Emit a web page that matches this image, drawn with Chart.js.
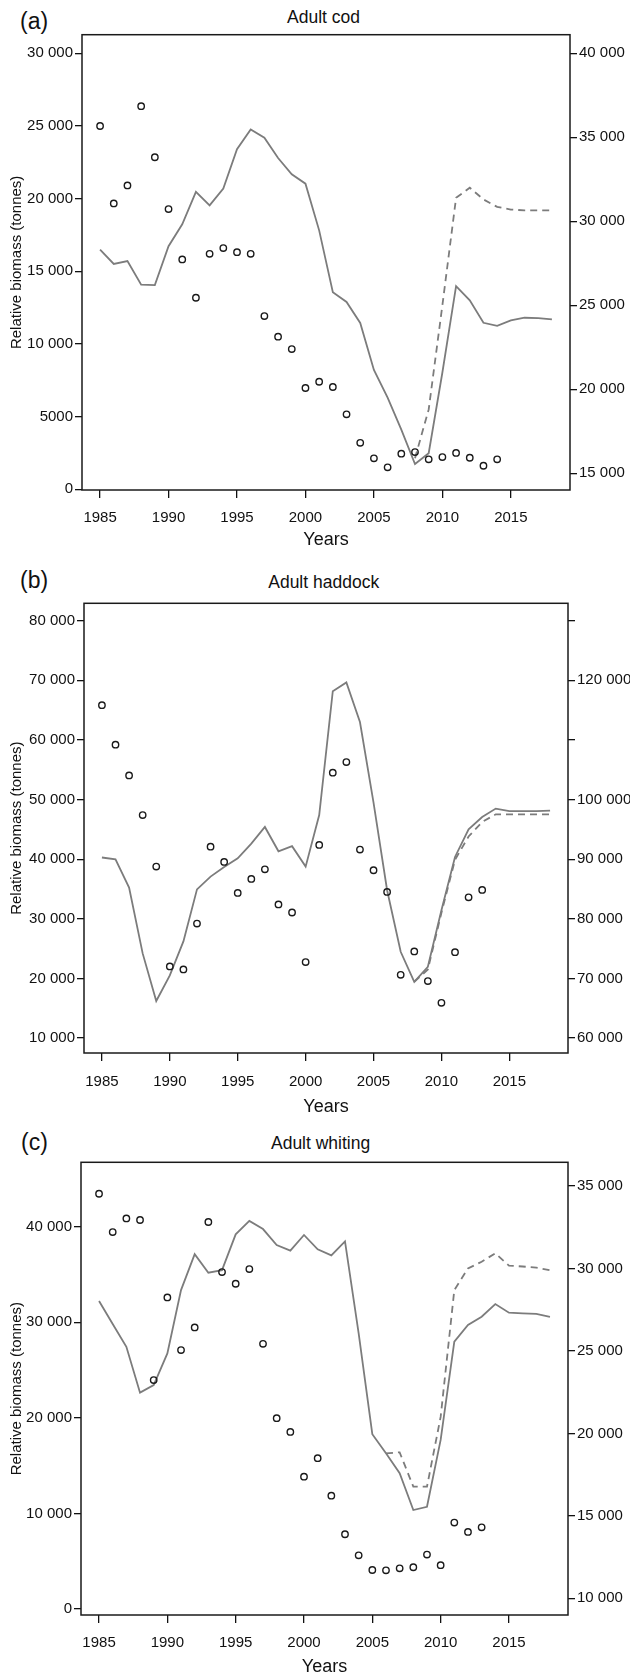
<!DOCTYPE html>
<html>
<head>
<meta charset="utf-8">
<script src="https://cdn.jsdelivr.net/npm/chart.js@4.4.0/dist/chart.umd.min.js"></script>
<style>
  html, body { margin: 0; padding: 0; background: #fff; }
  body { width: 630px; height: 1673px; position: relative; overflow: hidden; }
  canvas { position: absolute; left: 0; }
  .tag { position: absolute; font-family: 'Liberation Sans', Arial, sans-serif; font-size: 23px; line-height: 23px; color: #111; white-space: nowrap; }
  .ttl { position: absolute; font-family: 'Liberation Sans', Arial, sans-serif; font-size: 17.5px; line-height: 18px; color: #111; white-space: nowrap; transform: translateX(-50%); }
</style>
</head>
<body>
<div class="tag" style="left:20px; top:9.5px">(a)</div>
<div class="ttl" style="left:323.5px; top:7.5px">Adult cod</div>
<canvas id="codChart" width="630" height="555" style="top:0px"></canvas>

<div class="tag" style="left:20px; top:568.5px">(b)</div>
<div class="ttl" style="left:323.7px; top:573px">Adult haddock</div>
<canvas id="haddockChart" width="630" height="567" style="top:555px"></canvas>

<div class="tag" style="left:21px; top:1130.5px">(c)</div>
<div class="ttl" style="left:320.6px; top:1133.5px">Adult whiting</div>
<canvas id="whitingChart" width="630" height="563" style="top:1122px"></canvas>

<script>
// Years on the x axis
const years = [1985, 1986, 1987, 1988, 1989, 1990, 1991, 1992, 1993, 1994,
               1995, 1996, 1997, 1998, 1999, 2000, 2001, 2002, 2003, 2004,
               2005, 2006, 2007, 2008, 2009, 2010, 2011, 2012, 2013, 2014,
               2015, 2016, 2017, 2018];
const yearTicks = [1985, 1990, 1995, 2000, 2005, 2010, 2015];

// Adult cod: survey points (left axis), model biomass and projection (right axis)
const codSurvey = [25000, 19670, 20910, 26360, 22850, 19280, 15820, 13180, 16200, 16600,
                   16320, 16200, 11920, 10500, 9650, 6970, 7400, 7040, 5160, 3200,
                   2130, 1510, 2450, 2560, 2060, 2220, 2500, 2170, 1620, 2060,
                   null, null, null, null];
const codModel = [28320, 27460, 27630, 26230, 26200, 28520, 29820, 31750, 30950, 31950,
                  34290, 35460, 34980, 33770, 32800, 32240, 29460, 25780, 25200, 23950,
                  21150, 19500, 17600, 15550, 16200, 21000, 26140, 25300, 23960, 23780,
                  24100, 24260, 24240, 24160];
const codProj = [null, null, null, null, null, null, null, null, null, null,
                 null, null, null, null, null, null, null, null, null, null,
                 null, null, null, 15900, 18800, 25000, 31400, 32000, 31300, 30860,
                 30700, 30650, 30650, 30650];
const codLeftTicks = [0, 5000, 10000, 15000, 20000, 25000, 30000];
const codRightTicks = [15000, 20000, 25000, 30000, 35000, 40000];

// Adult haddock
const hadSurvey = [65830, 59200, 54050, 47400, 38760, 22000, 21500, 29200, 42100, 39530,
                   34340, 36690, 38300, 32400, 31050, 22730, 42380, 54500, 56280, 41600,
                   38140, 34500, 20600, 24520, 19550, 15900, 24400, 33600, 34840,
                   null, null, null, null, null];
const hadModel = [90280, 89980, 85240, 74190, 66200, 70500, 76200, 84930, 87070, 88690,
                  90150, 92600, 95400, 91320, 92180, 88750, 97400, 118180, 119650, 113000,
                  99500, 84790, 74460, 69430, 71940, 81440, 90370, 95000, 97070, 98480,
                  98070, 98070, 98070, 98130];
const hadProj = [null, null, null, null, null, null, null, null, null, null,
                 null, null, null, null, null, null, null, null, null, null,
                 null, null, null, 69430, 71500, 81000, 89900, 93800, 96240, 97520,
                 97520, 97520, 97520, 97520];
const hadLeftTicks = [10000, 20000, 30000, 40000, 50000, 60000, 70000, 80000];
const hadRightTicks = [60000, 70000, 80000, 90000, 100000, 110000, 120000, 130000];
const hadRightLabels = ['60 000', '70 000', '80 000', '90 000', '100 000', '', '120 000', ''];

// Adult whiting
const whiSurvey = [43450, 39440, 40870, 40700, 23950, 32600, 27090, 29460, 40490, 35250,
                   34030, 35570, 27750, 19970, 18530, 13850, 15780, 11860, 7820, 5620,
                   4080, 4050, 4260, 4370, 5690, 4580, 9040, 8060, 8550,
                   null, null, null, null, null];
const whiModel = [28030, 26630, 25250, 22470, 22930, 24850, 28690, 30870, 29740, 29900,
                  32070, 32880, 32390, 31420, 31080, 32030, 31160, 30790, 31640, 26070,
                  19950, 18790, 17580, 15350, 15550, 19600, 25560, 26570, 27070, 27840,
                  27320, 27280, 27240, 27070];
const whiProj = [null, null, null, null, null, null, null, null, null, null,
                 null, null, null, null, null, null, null, null, null, null,
                 null, 18790, 18850, 16770, 16770, 21000, 28690, 30000, 30410, 30920,
                 30170, 30120, 30050, 29900];
const whiLeftTicks = [0, 10000, 20000, 30000, 40000];
const whiRightTicks = [10000, 15000, 20000, 25000, 30000, 35000];

const sans = "'Liberation Sans', Arial, sans-serif";
const lineGrey = '#7c7c7c';
const ink = '#111';

function toXY(vals) {
    return years.map((yr, i) => ({ x: yr, y: vals[i] }));
}

function spaced(v) {
    return v >= 10000 ? String(v).replace(/\B(?=(\d{3})+(?!\d))/g, ' ') : String(v);
}

// draws the frame round the plot region
const boxPlugin = {
    id: 'box',
    afterDatasetsDraw(chart) {
        const a = chart.chartArea;
        const c = chart.ctx;
        c.save();
        c.strokeStyle = '#1a1a1a';
        c.lineWidth = 1.5;
        c.strokeRect(a.left, a.top, a.right - a.left, a.bottom - a.top);
        c.restore();
    }
};

function yAxis(pos, ticks, labels, min, max, width, withTitle) {
    return {
        position: pos,
        min: min,
        max: max,
        afterBuildTicks: s => { s.ticks = ticks.map(v => ({ value: v })); },
        afterFit: s => { s.width = width; },
        grid: { drawOnChartArea: false, drawTicks: true, tickLength: 7, tickColor: ink, lineWidth: 1.3 },
        border: { display: false },
        ticks: {
            font: { family: sans, size: 15 },
            color: ink,
            padding: 2,
            autoSkip: false,
            callback: (v, i) => labels ? labels[i] : spaced(v)
        },
        title: {
            display: withTitle,
            text: 'Relative biomass (tonnes)',
            font: { family: sans, size: 15 },
            color: ink,
            padding: { top: 8, bottom: 0 }
        }
    };
}

function makePanel(id, cfg) {
    const ctx = document.getElementById(id).getContext('2d');
    return new Chart(ctx, {
        type: 'line',
        data: {
            datasets: [{
                label: 'Survey index',
                data: toXY(cfg.survey),
                yAxisID: 'y',
                showLine: false,
                pointRadius: 3.2,
                pointBorderWidth: 1.4,
                pointBorderColor: '#1a1a1a',
                pointBackgroundColor: 'rgba(255,255,255,0)',
                order: 0
            }, {
                label: 'Model biomass',
                data: toXY(cfg.model),
                yAxisID: 'y2',
                borderColor: lineGrey,
                borderWidth: 1.8,
                pointRadius: 0,
                tension: 0,
                order: 1
            }, {
                label: 'Projection',
                data: toXY(cfg.proj),
                yAxisID: 'y2',
                borderColor: lineGrey,
                borderWidth: 1.8,
                borderDash: [7, 5],
                pointRadius: 0,
                tension: 0,
                order: 2
            }]
        },
        options: {
            responsive: false,
            animation: false,
            devicePixelRatio: 1,
            layout: { padding: { top: cfg.top, bottom: 0, left: 0, right: 0 } },
            plugins: { legend: { display: false }, tooltip: { enabled: false } },
            scales: {
                x: {
                    type: 'linear',
                    position: 'bottom',
                    min: 1983.68,
                    max: 2019.32,
                    afterBuildTicks: s => { s.ticks = yearTicks.map(v => ({ value: v })); },
                    afterFit: s => { s.height = cfg.xH; },
                    grid: { drawOnChartArea: false, drawTicks: true, tickLength: 8, tickColor: ink, lineWidth: 1.3 },
                    border: { display: false },
                    ticks: {
                        font: { family: sans, size: 15 },
                        color: ink,
                        padding: cfg.xPad,
                        maxRotation: 0,
                        autoSkip: false,
                        callback: v => String(v)
                    },
                    title: {
                        display: true,
                        text: 'Years',
                        font: { family: sans, size: 18 },
                        color: ink,
                        padding: { top: 0, bottom: cfg.titlePad }
                    }
                },
                y: yAxis('left', cfg.leftTicks, null, cfg.leftMin, cfg.leftMax, cfg.left, true),
                y2: yAxis('right', cfg.rightTicks, cfg.rightLabels, cfg.rightMin, cfg.rightMax, 630 - cfg.right, false)
            }
        },
        plugins: [boxPlugin]
    });
}

document.addEventListener('DOMContentLoaded', () => {
    makePanel('codChart', {
        survey: codSurvey, model: codModel, proj: codProj,
        leftTicks: codLeftTicks, rightTicks: codRightTicks, rightLabels: null,
        leftMin: -48, leftMax: 31281, rightMin: 14006, rightMax: 41107,
        top: 34.7, left: 82, right: 570, xH: 65, xPad: 11, titlePad: 4.2
    });
    makePanel('haddockChart', {
        survey: hadSurvey, model: hadModel, proj: hadProj,
        leftTicks: hadLeftTicks, rightTicks: hadRightTicks, rightLabels: hadRightLabels,
        leftMin: 7484, leftMax: 82919, rightMin: 57484, rightMax: 132919,
        top: 48.3, left: 84, right: 568, xH: 69, xPad: 12, titlePad: 4.5
    });
    makePanel('whitingChart', {
        survey: whiSurvey, model: whiModel, proj: whiProj,
        leftTicks: whiLeftTicks, rightTicks: whiRightTicks, rightLabels: null,
        leftMin: -628, leftMax: 46738, rightMin: 8987, rightMax: 36437,
        top: 40.3, left: 81, right: 568, xH: 70, xPad: 10.7, titlePad: 7.5
    });
});
</script>
</body>
</html>
